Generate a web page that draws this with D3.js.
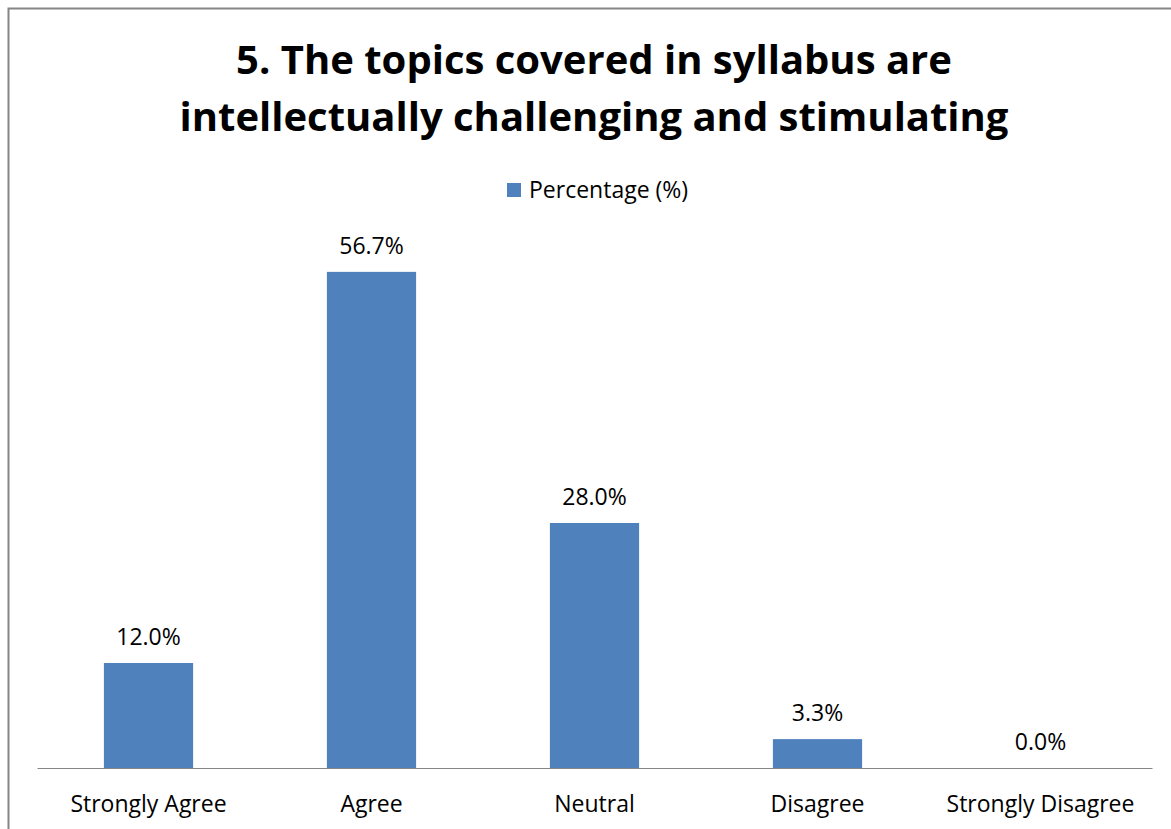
<!DOCTYPE html>
<html><head><meta charset="utf-8">
<script src="https://cdn.jsdelivr.net/npm/d3@7"></script>
<style>body{margin:0;background:#fff}</style>
</head><body>
<svg id="c" width="1171" height="829"></svg>
<script>
const categories = ["Strongly Agree","Agree","Neutral","Disagree","Strongly Disagree"];
const values = [12.0, 56.7, 28.0, 3.3, 0.0];
const seriesName = "Percentage (%)";
const titleLines = ["5. The topics covered in syllabus are","intellectually challenging and stimulating"];

const svg = d3.select("#c");
const font = "'Open Sans', 'Noto Sans', sans-serif";
svg.append("rect").attr("x",8.5).attr("y",8.5).attr("width",1200).attr("height",900)
  .attr("fill","#fff").attr("stroke","#868686").attr("stroke-width",2);

const x = d3.scaleBand().domain(categories).range([37,1152]).paddingInner(0.6).paddingOuter(0.3);
const y = d3.scaleLinear().domain([0,60]).range([768,243]);

// title
const t = svg.append("text").attr("text-anchor","middle").attr("font-family",font)
  .attr("font-weight","bold").attr("font-size",40).attr("fill","#000");
titleLines.forEach((l,i)=>t.append("tspan").attr("x",594).attr("y",74+i*57).text(l));

// legend
const lg = svg.append("g");
lg.append("rect").attr("x",507).attr("y",183).attr("width",14).attr("height",14).attr("fill","#4F81BD");
lg.append("text").attr("x",529).attr("y",198).attr("font-family",font).attr("font-size",23)
  .attr("fill","#000").text(seriesName);

// bars
svg.selectAll("rect.bar").data(values).join("rect").attr("class","bar")
  .attr("x",(d,i)=>x(categories[i])).attr("width",x.bandwidth())
  .attr("y",d=>y(d)).attr("height",d=>y(0)-y(d)).attr("fill","#4F81BD");

// value labels
svg.selectAll("text.val").data(values).join("text").attr("class","val")
  .attr("x",(d,i)=>x(categories[i])+x.bandwidth()/2).attr("y",d=>y(d)-18)
  .attr("text-anchor","middle").attr("font-family",font).attr("font-size",23).attr("fill","#000")
  .text(d=>d.toFixed(1)+"%");

// axis
const ax = svg.append("g").attr("transform","translate(0,768)")
  .call(d3.axisBottom(x).tickSize(0));
ax.select(".domain").attr("stroke","#868686").attr("stroke-width",1.2);
ax.selectAll("text").attr("font-family",font).attr("font-size",23).attr("fill","#000")
  .attr("y",44).attr("dy",null);
</script>
</body></html>
